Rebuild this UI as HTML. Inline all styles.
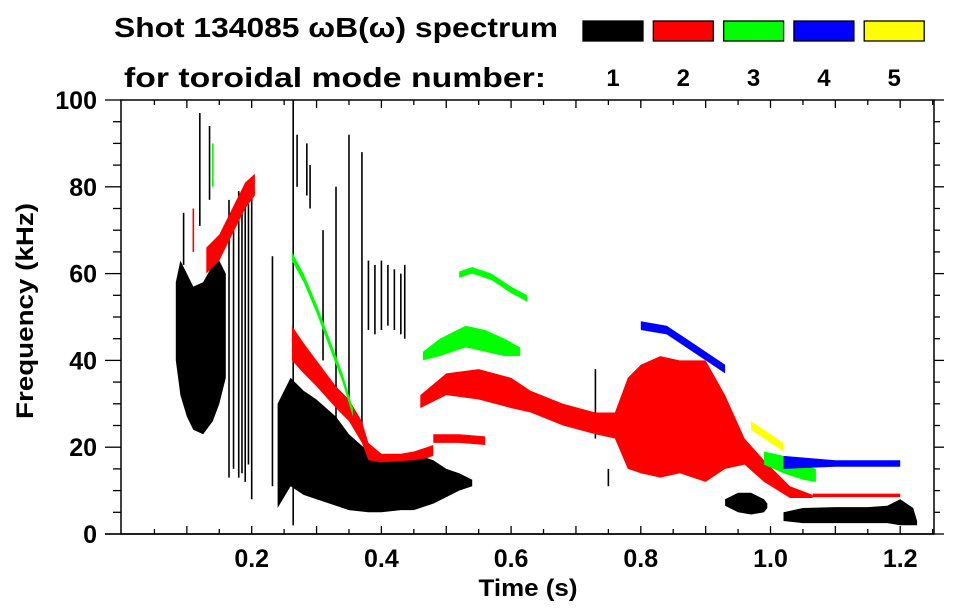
<!DOCTYPE html>
<html><head><meta charset="utf-8"><style>
html,body{margin:0;padding:0;background:#fff}
svg{display:block}
text{font-family:"Liberation Sans",sans-serif;font-weight:bold;fill:#000}
</style></head><body>
<svg id="chart" width="963" height="615" viewBox="0 0 963 615">
<text x="114" y="37" font-size="28" textLength="444" lengthAdjust="spacingAndGlyphs">Shot 134085 ωB(ω) spectrum</text>
<text x="124" y="87" font-size="28" textLength="422" lengthAdjust="spacingAndGlyphs">for toroidal mode number:</text>
<g id="legend"></g>
<g id="marks"></g>
<g id="axes"></g>
<text x="528" y="596" font-size="24" text-anchor="middle" textLength="99" lengthAdjust="spacingAndGlyphs">Time (s)</text>
<text transform="translate(33,311) rotate(-90)" font-size="24" text-anchor="middle" textLength="216" lengthAdjust="spacingAndGlyphs">Frequency (kHz)</text>
</svg>
<script>
// axis data
const xTicks=[0.2,0.4,0.6,0.8,1.0,1.2];
const xTickLabels=["0.2","0.4","0.6","0.8","1.0","1.2"];
const yTicks=[0,20,40,60,80,100];
const yTickLabels=["0","20","40","60","80","100"];
const modeNumbers=["1","2","3","4","5"];
const modeColors=["#000000","#ff0000","#00ff00","#0000ff","#ffff00"];
// bands: time, upper freq, lower freq (kHz)
const n1EarlyT=[0.083,0.09,0.1,0.11,0.125,0.14,0.15,0.16];
const n1EarlyHi=[58,63,60,57,58,62,63,60];
const n1EarlyLo=[40,32,27,24,23,26,30,36];
const n1MainT=[0.24,0.26,0.28,0.3,0.33,0.35,0.38,0.4,0.43,0.45,0.48,0.5,0.52,0.54];
const n1MainHi=[30,36,33,31,27,23,19,17,18,18.6,17,15,14,12.5];
const n1MainLo=[6,11,9,8,6.5,5.5,5,5,5.5,5.5,7,8.5,10,11];
const n1Late1T=[0.93,0.95,0.97,0.99,0.995];
const n1Late1Hi=[8,9.5,9.5,8,7];
const n1Late1Lo=[6.5,5,4.5,5,6];
const n1Late2T=[1.02,1.05,1.1,1.15,1.18,1.2,1.22,1.226];
const n1Late2Hi=[5,6,6.2,6.2,6.5,8,6,3];
const n1Late2Lo=[3,2.5,2.5,2.5,2.5,2,2,2];
const n2EarlyT=[0.13,0.15,0.17,0.19,0.205];
const n2EarlyHi=[66,69,75,81,83];
const n2EarlyLo=[60,63,69,75,78];
const n2MainT=[0.262,0.28,0.3,0.33,0.35,0.37,0.38,0.4,0.43,0.45,0.47,0.48];
const n2MainHi=[48,44,40,34,31,26,21,18.5,18.5,19,20,20.5];
const n2MainLo=[40,37,34,29,26,21,17,16.5,16.8,17,17.5,18];
const n2HumpT=[0.46,0.5,0.55,0.6,0.63,0.68,0.73,0.76,0.78,0.8,0.83,0.86,0.9,0.93,0.96,0.99,1.03,1.065];
const n2HumpHi=[32,37,38,36,33,30,28,28,36,39,41,40,40,32,22,17,11,9];
const n2HumpLo=[29,32,31,29,28,25,23,22,15,14,13,14,12,15,16,12,8.3,8.3];
const n2FlatT=[0.48,0.52,0.56];
const n2FlatHi=[23,23,22.5];
const n2FlatLo=[21,21,20.5];
const n2TailT=[1.065,1.1,1.15,1.2];
const n2TailHi=[9.3,9.3,9.3,9.3];
const n2TailLo=[8.5,8.5,8.5,8.5];
const n3DescT=[0.262,0.28,0.3,0.32,0.34,0.356];
const n3DescHi=[65,60,53,45,37,29];
const n3DescLo=[63,58,51,43,35,27];
const n3HumpT=[0.464,0.49,0.53,0.56,0.59,0.614];
const n3HumpHi=[42,45,48,47,45,43];
const n3HumpLo=[40,41,43,42,41,41];
const n3UpperT=[0.52,0.54,0.57,0.6,0.625];
const n3UpperHi=[60.5,61.5,60,57,55];
const n3UpperLo=[59,60,58.5,55.5,53.5];
const n3LateT=[0.99,1.02,1.05,1.07];
const n3LateHi=[19,18,16,15];
const n3LateLo=[16,14,12.5,12];
const n4UpperT=[0.8,0.84,0.88,0.93];
const n4UpperHi=[49,48,44,39];
const n4UpperLo=[47,46,42,37];
const n4LateT=[1.02,1.1,1.2];
const n4LateHi=[18,17,17];
const n4LateLo=[15,15.5,15.5];
const n5T=[0.97,1.0,1.02];
const n5Hi=[26,23,21];
const n5Lo=[24,21,19];
// vertical streaks: time, freq from, freq to, mode index
const streakT=[0.095,0.12,0.135,0.165,0.172,0.18,0.185,0.19,0.195,0.2,0.232,0.264,0.27,0.285,0.29,0.31,0.33,0.35,0.37,0.38,0.39,0.4,0.41,0.42,0.43,0.436,0.11,0.14,0.75,0.73];
const streakF0=[74,97,94,77,70,79,78,80,76,80,64,100,92,90,85,70,80,92,88,63,62,63,62,61,60,62,75,90,15,38];
const streakF1=[62,71,77,13,15,13,14,12,16,8,11,2,80,78,75,40,20,30,25,47,46,47,48,47,46,45,65,80,11,22];
const streakMode=[0,0,0,0,0,0,0,0,0,0,0,0,0,0,0,0,0,0,0,0,0,0,0,0,0,0,1,2,0,0];

const X=t=>122+t*648.5;
const Y=f=>534-f*4.34;
const NS="http://www.w3.org/2000/svg";
const marks=document.getElementById('marks');
const axes=document.getElementById('axes');
const legend=document.getElementById('legend');
function mk(tag,attrs,parent){const e=document.createElementNS(NS,tag);for(const k in attrs)e.setAttribute(k,attrs[k]);parent.appendChild(e);return e;}
function band(T,Hi,Lo,mode,name){
  let pts=[];
  for(let i=0;i<T.length;i++)pts.push(X(T[i]).toFixed(1)+','+Y(Hi[i]).toFixed(1));
  for(let i=T.length-1;i>=0;i--)pts.push(X(T[i]).toFixed(1)+','+Y(Lo[i]).toFixed(1));
  const p=mk('polygon',{points:pts.join(' '),fill:modeColors[mode]},marks);
  
  
}
for(let i=0;i<streakT.length;i++){
  const l=mk('line',{x1:X(streakT[i]),x2:X(streakT[i]),y1:Y(streakF0[i]),y2:Y(streakF1[i]),stroke:modeColors[streakMode[i]],'stroke-width':1.6},marks);
  
  
}
band(n1EarlyT,n1EarlyHi,n1EarlyLo,0,'n1-early-band');
band(n1MainT,n1MainHi,n1MainLo,0,'n1-main-band');
band(n1Late1T,n1Late1Hi,n1Late1Lo,0,'n1-late-band-a');
band(n1Late2T,n1Late2Hi,n1Late2Lo,0,'n1-late-band-b');
band(n2EarlyT,n2EarlyHi,n2EarlyLo,1,'n2-early-band');
band(n2MainT,n2MainHi,n2MainLo,1,'n2-main-band');
band(n2HumpT,n2HumpHi,n2HumpLo,1,'n2-hump-band');
band(n2FlatT,n2FlatHi,n2FlatLo,1,'n2-flat-band');
band(n2TailT,n2TailHi,n2TailLo,1,'n2-tail-band');
band(n3DescT,n3DescHi,n3DescLo,2,'n3-descending-band');
band(n3HumpT,n3HumpHi,n3HumpLo,2,'n3-hump-band');
band(n3UpperT,n3UpperHi,n3UpperLo,2,'n3-upper-band');
band(n3LateT,n3LateHi,n3LateLo,2,'n3-late-band');
band(n4UpperT,n4UpperHi,n4UpperLo,3,'n4-upper-band');
band(n4LateT,n4LateHi,n4LateLo,3,'n4-late-band');
band(n5T,n5Hi,n5Lo,4,'n5-band');

// frame
const fr=mk('rect',{x:121,y:Y(100),width:934-121,height:Y(0)-Y(100),fill:'none',stroke:'#000','stroke-width':1.5},axes);


// y ticks
for(let f=0;f<=100;f+=5){
  const major=f%20===0;
  const t1=mk('line',{x1:121,x2:major?105:113,y1:Y(f),y2:Y(f),stroke:'#000','stroke-width':1.3},axes);
  
  
  const t2=mk('line',{x1:934,x2:major?944:940,y1:Y(f),y2:Y(f),stroke:'#000','stroke-width':1.3},axes);
  
  
}
yTicks.forEach((v,i)=>{
  const tx=mk('text',{x:97,y:Y(v)+9,'font-size':25,'text-anchor':'end'},axes);
  tx.textContent=yTickLabels[i];
  
  
});
// x ticks
for(let k=1;k*0.05<=1.25;k++){
  const t=k*0.05;const major=k%2===0;
  const a=mk('line',{x1:X(t),x2:X(t),y1:Y(0),y2:Y(0)-(major?8:5),stroke:'#000','stroke-width':1.3},axes);
  
  
  const b=mk('line',{x1:X(t),x2:X(t),y1:Y(100),y2:Y(100)+(major?8:5),stroke:'#000','stroke-width':1.3},axes);
  
  
}
mk('line',{x1:105,x2:934,y1:Y(0),y2:Y(0),stroke:'#000','stroke-width':1.5},axes);
xTicks.forEach((v,i)=>{
  const tx=mk('text',{x:X(v),y:567,'font-size':25,'text-anchor':'middle'},axes);
  tx.textContent=xTickLabels[i];
  
  
});
// legend
modeNumbers.forEach((m,i)=>{
  const bx=583+i*70.3;
  const r=mk('rect',{x:bx,y:21,width:60,height:20,fill:modeColors[i],stroke:'#000','stroke-width':1.3},legend);
  
  
  const tx=mk('text',{x:bx+30,y:86,'font-size':24,'text-anchor':'middle'},legend);
  tx.textContent=m;
  
  
});
</script>
</body></html>
